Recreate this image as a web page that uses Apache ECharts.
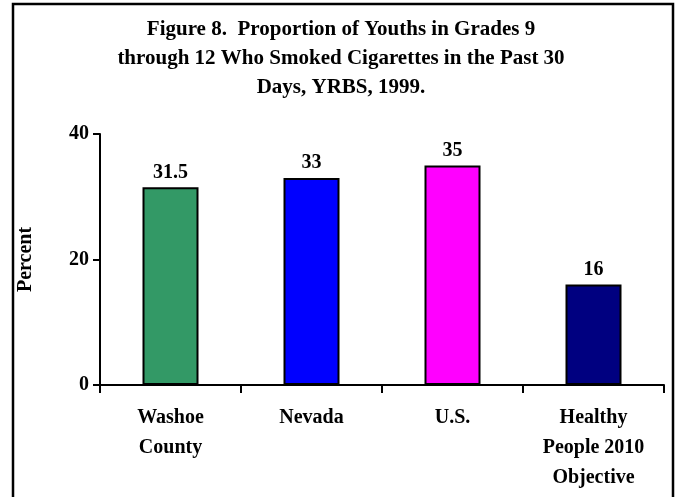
<!DOCTYPE html>
<html>
<head>
<meta charset="utf-8">
<script src="https://cdn.jsdelivr.net/npm/echarts@6/dist/echarts.min.js"></script>
<style>
  html, body { margin: 0; padding: 0; background: #fff; }
  #chart { width: 678px; height: 497px; }
</style>
</head>
<body>
<div id="chart"></div>
<script>
 // data
 var categories = ['Washoe\nCounty', 'Nevada', 'U.S.', 'Healthy\nPeople 2010\nObjective'];
 var percents = [31.5, 33, 35, 16];
 var barColors = ['#339966', '#0000ff', '#ff00ff', '#000080'];
 var yTicks = [0, 20, 40];

 var serif = '"Liberation Serif", "Times New Roman", serif';

 var myChart = echarts.init(document.getElementById('chart'));

 var option = {
     backgroundColor: '#fff',
     animation: false,
     title: {
         text: 'Figure 8.  Proportion of Youths in Grades 9\nthrough 12 Who Smoked Cigarettes in the Past 30\nDays, YRBS, 1999.',
         left: 336,
         textAlign: 'center',
         top: 10,
         textStyle: {
             fontFamily: serif,
             fontWeight: 'bold',
             fontSize: 21,
             lineHeight: 29,
             color: '#000'
         }
     },
     graphic: [{
         type: 'rect',
         shape: { x: 13, y: 4, width: 660, height: 510 },
         style: { fill: 'none', stroke: '#000', lineWidth: 2.5 },
         silent: true
     }],
     grid: {
         left: 100,
         right: 14,
         top: 134,
         bottom: 112
     },
     xAxis: {
         type: 'category',
         data: categories,
         boundaryGap: true,
         axisLine: { lineStyle: { color: '#000', width: 2 } },
         axisTick: { show: true, length: 8, lineStyle: { color: '#000', width: 2 } },
         axisLabel: {
             color: '#000',
             fontFamily: serif,
             fontWeight: 'bold',
             fontSize: 20,
             lineHeight: 30,
             margin: 18,
             interval: 0
         }
     },
     yAxis: {
         type: 'value',
         min: yTicks[0],
         max: yTicks[yTicks.length - 1],
         interval: 20,
         name: 'Percent',
         nameLocation: 'middle',
         nameGap: 64,
         nameRotate: 90,
         nameTextStyle: {
             color: '#000',
             fontFamily: serif,
             fontWeight: 'bold',
             fontSize: 20
         },
         axisLine: { show: true, lineStyle: { color: '#000', width: 2 } },
         axisTick: { show: true, length: 7, lineStyle: { color: '#000', width: 2 } },
         splitLine: { show: false },
         axisLabel: {
             color: '#000',
             fontFamily: serif,
             fontWeight: 'bold',
             fontSize: 20,
             margin: 11
         }
     },
     series: [{
         name: 'Percent',
         type: 'bar',
         barWidth: 56,
         data: percents.map(function (v, i) {
             return { value: v, itemStyle: { color: barColors[i] } };
         }),
         itemStyle: { borderColor: '#000', borderWidth: 2 },
         label: {
             show: true,
             position: 'top',
             distance: 5,
             color: '#000',
             fontFamily: serif,
             fontWeight: 'bold',
             fontSize: 20
         }
     }]
 };

 myChart.setOption(option);
</script>
</body>
</html>
